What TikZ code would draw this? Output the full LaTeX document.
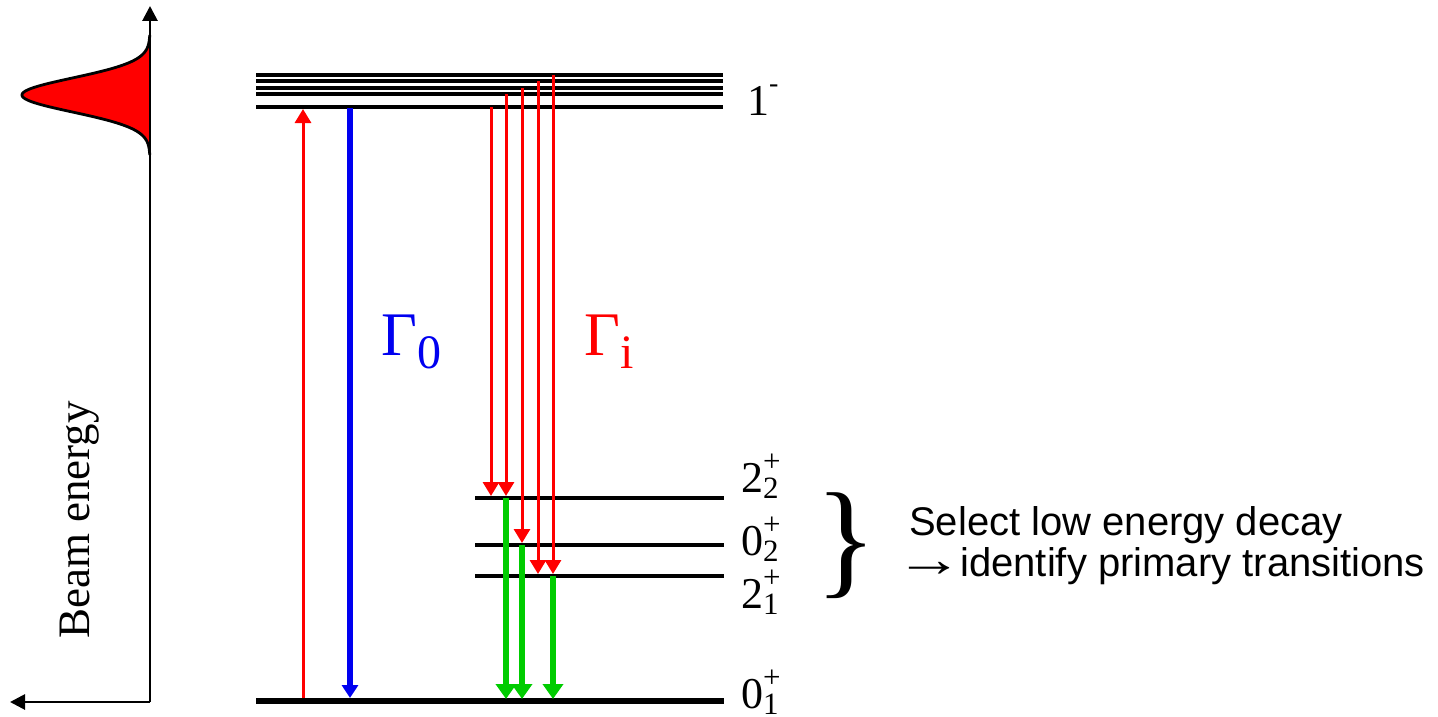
\documentclass[tikz,border=0pt]{standalone}
\usepackage{fontspec}
\setmainfont{Liberation Serif}
\newfontfamily\arialf{Liberation Sans}
\newfontfamily\serfarrow{Liberation Serif}
\usetikzlibrary{arrows.meta}
\definecolor{myred}{RGB}{255,0,0}
\definecolor{myblue}{RGB}{0,0,240}
\definecolor{mygreen}{RGB}{0,204,0}
\newcommand\lvllab[3]{#1\rlap{\raisebox{-6pt}{\fontsize{31}{31}\selectfont #2}}\raisebox{21pt}{\fontsize{31}{31}\selectfont #3}}
\begin{document}
\begin{tikzpicture}[x=1pt,y=-1pt,
  level/.style={line width=3.3pt},
  ground/.style={line width=6pt},
  redarr/.style={myred,line width=3pt,-{Triangle[width=16pt,length=14pt]}},
  bluearr/.style={myblue,line width=5.5pt,-{Triangle[width=16pt,length=13pt]}},
  greenarr/.style={mygreen,line width=6.5pt,-{Triangle[width=20pt,length=15pt]}},
  axis/.style={line width=2.8pt,-{Triangle[width=15pt,length=15pt]}},
  lab/.style={font=\fontsize{44}{50}\selectfont,inner sep=0pt,anchor=base west},
  every node/.style={inner sep=0pt}]
\useasboundingbox (0,0) rectangle (1438,717);

% beam profile
\coordinate (origin) at (150,702);
\coordinate (ytop) at (150,6);
\coordinate (xleft) at (10,702);
\fill[myred] plot[domain=35:155,samples=120] ({150-128*exp(-((\x-95)/17)^2/2)},\x) -- cycle;
\draw[line width=2.8pt] plot[domain=35:155,samples=120] ({150-128*exp(-((\x-95)/17)^2/2)},\x);
\draw[axis,line join=miter] (origin) -- (ytop);
\draw[axis] (origin) -- (xleft);
\node[rotate=90,font=\fontsize{45}{50}\selectfont] (beam) at (80,520) {Beam energy};

% 1- levels
\foreach \n/\y in {1/75,2/81,3/88,4/94,5/107}{
  \coordinate (a\n) at (256,\y);
  \coordinate (b\n) at (723,\y);
  \draw[level] (a\n) -- (b\n);
}
\node[lab] (l1m) at (747,115) {1\raisebox{23pt}{\fontsize{28}{28}\selectfont -}};

% low levels
\coordinate (s22) at (475,498); \coordinate (e22) at (724,498);
\coordinate (s02) at (475,545); \coordinate (e02) at (724,545);
\coordinate (s21) at (475,576); \coordinate (e21) at (724,576);
\coordinate (s01) at (256,701); \coordinate (e01) at (724,701);
\draw[level] (s22) -- (e22);
\draw[level] (s02) -- (e02);
\draw[level] (s21) -- (e21);
\draw[ground] (s01) -- (e01);
\node[lab] (l22) at (741,492) {\lvllab{2}{2}{+}};
\node[lab] (l02) at (741,555) {\lvllab{0}{2}{+}};
\node[lab] (l21) at (741,608) {\lvllab{2}{1}{+}};
\node[lab] (l01) at (741,708) {\lvllab{0}{1}{+}};

% excitation and ground decay
\draw[redarr] (303,0 |- s01) ++(0,-3) -- (303,109);
\draw[bluearr] (350,0 |- a5) ++(0,1) -- (350,698);
\node[myblue,font=\fontsize{62}{62}\selectfont,anchor=base west] (g0) at (381,355) {Γ\raisebox{-13pt}{\fontsize{48}{48}\selectfont 0}};

% primary transitions
\draw[redarr] (491,0 |- a5) -- (491,496);
\draw[redarr] (506,0 |- a4) -- (506,496);
\draw[redarr] (522,0 |- a3) -- (522,543);
\draw[redarr] (538,0 |- a2) -- (538,574);
\draw[redarr] (553,0 |- a1) -- (553,574);
\node[myred,font=\fontsize{62}{62}\selectfont,anchor=base west] (gi) at (584,355) {Γ\raisebox{-13pt}{\fontsize{48}{48}\selectfont i}};

% secondary transitions
\draw[greenarr] (506,0 |- s22) -- (506,699);
\draw[greenarr] (522,0 |- s02) -- (522,699);
\draw[greenarr] (553,0 |- s21) -- (553,699);

% brace and text
\node[font=\fontsize{128}{128}\selectfont] (br) at (846,546) {\}};
\node[font=\arialf\fontsize{40}{41}\selectfont,anchor=base west,align=left] (txt1) at (909,535) {Select low energy decay};
\node[font=\arialf\fontsize{40}{41}\selectfont,anchor=base west,align=left] (txt2) at (909,576) {\makebox[40pt][c]{\scalebox{1.7}[1.25]{\serfarrow →}} identify primary transitions};
\end{tikzpicture}
\end{document}
